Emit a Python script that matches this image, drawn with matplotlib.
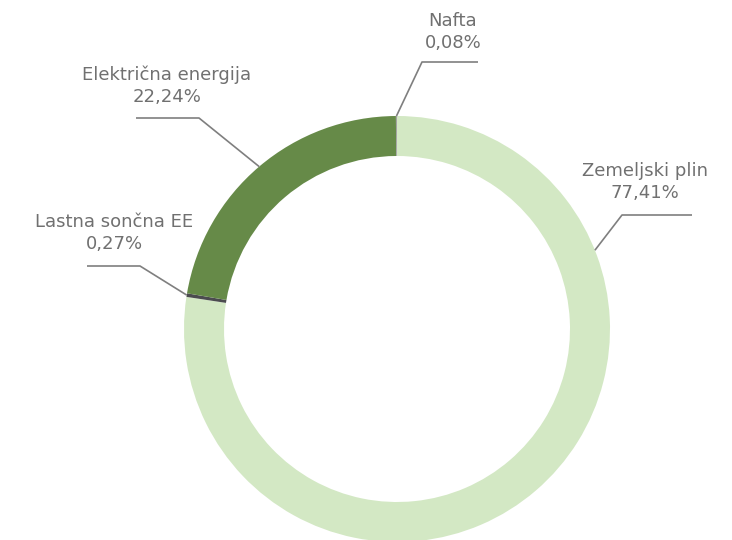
import numpy as np
import matplotlib.pyplot as plt

# Energy source shares (%), in drawing order clockwise from 12 o'clock
labels = ["Zemeljski plin", "Lastna sončna EE", "Električna energija", "Nafta"]
values = [77.41, 0.27, 22.24, 0.08]
colors = ["#d3e8c4", "#4b4b4f", "#668a48", "#a3a3a3"]

W, H = 732, 540
fig = plt.figure(figsize=(W / 100, H / 100), dpi=100)
ax = fig.add_axes([0, 0, 1, 1])

cx, cy = 397, H - 329
r_out, ring = 213, 40

wedges, _ = ax.pie(values, colors=colors, startangle=90, counterclock=False,
                   center=(cx, cy), radius=r_out,
                   wedgeprops=dict(width=ring, linewidth=0))
ax.set_xlim(0, W)
ax.set_ylim(0, H)
ax.set_aspect("equal")
ax.axis("off")

def edge_point(angle_deg):
    a = np.deg2rad(angle_deg)
    return cx + r_out * np.cos(a), cy + r_out * np.sin(a)

# label layout: (anchor angle or None for wedge middle, elbow, line end, text centre)
layout = {
    "Zemeljski plin": (21.7, (622, 215), (692, 215), (645, 182)),
    "Lastna sončna EE": (None, (140, 266), (87, 266), (114, 233)),
    "Električna energija": (None, (199, 118), (136, 118), (167, 86)),
    "Nafta": (None, (422, 62), (478, 62), (453, 32)),
}

line_col = "#7f7f7f"
text_col = "#707070"
for w, lab, val in zip(wedges, labels, values):
    ang, elbow, end, tc = layout[lab]
    if ang is None:
        ang = 0.5 * (w.theta1 + w.theta2)
    x0, y0 = edge_point(ang)
    xs = [x0, elbow[0], end[0]]
    ys = [y0, H - elbow[1], H - end[1]]
    ax.plot(xs, ys, color=line_col, lw=1.2, solid_capstyle="butt")
    txt = f"{lab}\n{val:.2f}%".replace(".", ",")
    ax.text(tc[0], H - tc[1], txt, ha="center", va="center",
            fontsize=13, color=text_col, family="DejaVu Sans",
            linespacing=1.3)

fig.savefig("out.png", dpi=100)
